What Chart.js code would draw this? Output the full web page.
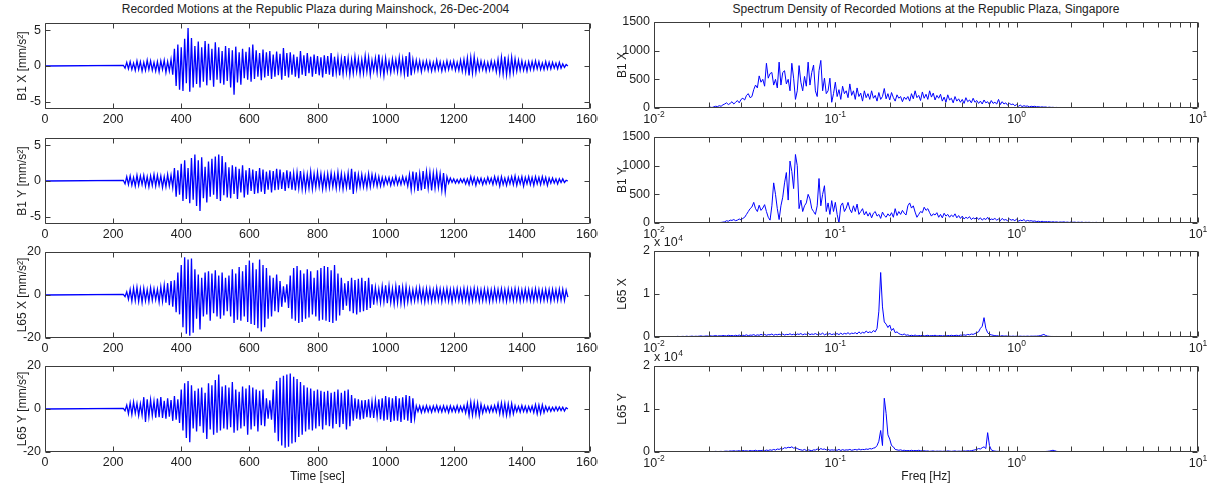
<!DOCTYPE html>
<html>
<head>
<meta charset="utf-8">
<script src="https://cdn.jsdelivr.net/npm/chart.js@4.4.1/dist/chart.umd.min.js"></script>
<style>
  html, body { margin: 0; padding: 0; background: #fff; }
  body { width: 1208px; height: 486px; position: relative; overflow: hidden; font-family: "Liberation Sans", Arial, sans-serif; }
  canvas { position: absolute; }
  .fig-title { position: absolute; top: 2px; font-size: 12px; line-height: 14px; color: #222; text-align: center; white-space: nowrap; }
</style>
</head>
<body>
<div class="fig-title" style="left:43px;width:545px">Recorded Motions at the Republic Plaza during Mainshock, 26-Dec-2004</div>
<div class="fig-title" style="left:654px;width:544px">Spectrum Density of Recorded Motions at the Republic Plaza, Singapore</div>

<canvas id="b1x-time"></canvas>
<canvas id="b1y-time"></canvas>
<canvas id="l65x-time"></canvas>
<canvas id="l65y-time"></canvas>
<canvas id="b1x-spec"></canvas>
<canvas id="b1y-spec"></canvas>
<canvas id="l65x-spec"></canvas>
<canvas id="l65y-spec"></canvas>

<script>
// time histories: one sample every DT seconds starting at T0 (record is quiet before T0)
const T0 = 230, DT = 5;
// spectra: samples on a log10 frequency grid starting at 10^LOGF0
const LOGF0 = -2, DLOGF = 0.01;

const timeTicks = [0, 200, 400, 600, 800, 1000, 1200, 1400, 1600];
const b1Ticks = [-5, 0, 5];
const l65Ticks = [-20, 0, 20];
const b1SpecTicks = [0, 500, 1000, 1500];
const l65SpecTicks = [0, 1, 2];
const freqDecades = [-2, -1, 0, 1];

// accelerations [mm/s^2], lines of 100 s
const b1x = [
  0.1,-0.3,0.5,-0.4,0.6,-0.5,0.4,-0.6,0.7,-0.5,0.6,-0.7,0.5,-0.6,0.8,-0.5,0.7,-0.6,0.5,-0.7,
  0.6,-0.8,0.7,-0.5,0.8,-0.9,0.6,-0.7,0.9,-1.2,2.4,-2.8,3.0,-3.3,2.6,-3.5,3.8,-2.4,5.3,-3.6,
  3.9,-3.0,2.8,-2.5,3.4,-3.0,2.6,-2.2,3.5,-2.7,3.1,-2.0,2.4,-2.9,3.3,-1.9,2.6,-2.4,2.1,-2.6,
  2.8,-2.1,2.5,-3.0,2.2,-4.0,2.7,-2.3,1.9,-2.6,2.4,-1.7,2.0,-1.9,2.6,-2.2,3.0,-1.8,2.2,-1.5,
  1.8,-2.0,2.3,-1.6,1.9,-1.4,2.1,-1.8,1.6,-1.5,2.0,-1.3,1.7,-1.9,2.5,-1.4,1.8,-1.6,1.9,-1.2,
  1.6,-1.5,1.3,-1.7,2.1,-1.2,1.5,-1.4,1.8,-1.0,1.3,-1.5,1.6,-1.1,1.4,-1.3,1.2,-1.6,1.5,-1.1,
  1.4,-1.2,1.8,-1.5,1.3,-1.0,1.2,-1.3,1.0,-1.1,1.4,-0.9,1.1,-1.2,0.9,-1.0,1.3,-0.8,1.0,-1.1,
  0.9,-1.0,1.4,-0.8,1.2,-1.2,0.8,-0.7,1.1,-0.9,1.6,-1.0,0.9,-1.3,1.1,-0.8,0.7,-0.9,1.0,-0.7,
  0.9,-0.8,1.2,-0.9,1.0,-1.1,1.4,-1.5,1.9,-1.3,0.9,-0.7,0.8,-0.6,0.7,-0.8,0.6,-0.5,0.7,-0.6,
  0.6,-0.7,0.5,-0.6,0.8,-0.5,0.6,-0.7,0.5,-0.6,0.7,-0.5,0.6,-0.4,0.7,-0.6,0.5,-0.6,0.8,-0.7,
  0.9,-0.8,1.1,-1.3,1.2,-1.0,1.3,-0.9,0.8,-0.6,0.7,-0.5,0.6,-0.7,0.5,-0.6,0.7,-0.5,0.6,-0.8,
  0.9,-1.0,1.2,-1.1,1.3,-1.2,1.0,-1.1,1.2,-0.9,1.0,-0.7,0.8,-0.6,0.7,-0.6,0.5,-0.7,0.6,-0.5,
  0.6,-0.5,0.7,-0.4,0.6,-0.5,0.4,-0.5,0.6,-0.4,0.5,-0.4,0.5,-0.3,0.4,-0.4,0.5,-0.3,0.3,-0.2,
  0.2,0.0
];
const b1y = [
  0.1,-0.4,0.6,-0.5,0.7,-0.6,0.5,-0.7,0.8,-0.6,0.7,-0.5,0.8,-0.7,0.6,-0.8,0.7,-0.6,0.9,-0.7,
  0.8,-0.6,0.7,-0.9,0.6,-0.8,0.9,-0.7,0.8,-0.9,1.8,-2.2,1.5,-1.9,2.4,-2.8,2.9,-2.5,1.8,-3.1,
  3.2,-2.6,3.7,-3.5,2.9,-4.2,3.3,-2.4,2.0,-3.0,2.7,-2.2,3.1,-1.9,3.4,-2.5,3.7,-2.8,3.5,-2.0,
  2.6,-2.3,1.9,-2.4,2.2,-1.8,2.0,-2.5,1.7,-1.6,2.2,-2.3,1.5,-1.9,1.8,-1.4,1.6,-1.8,1.4,-1.7,
  1.8,-1.5,1.6,-1.8,1.3,-1.2,1.5,-1.6,1.4,-1.3,1.7,-1.2,1.6,-1.1,1.2,-1.4,1.5,-1.0,1.3,-1.2,
  1.1,-1.3,1.2,-1.0,1.4,-1.1,1.0,-1.2,0.9,-1.0,1.3,-1.1,1.0,-0.9,1.2,-0.8,1.0,-1.1,0.9,-1.0,
  1.0,-0.9,1.1,-0.8,0.9,-1.0,1.2,-0.9,1.0,-1.1,0.8,-0.9,1.1,-1.2,1.7,-1.8,1.3,-1.0,0.9,-0.8,
  0.9,-0.8,0.7,-0.9,1.0,-0.8,0.9,-0.6,0.8,-0.7,0.6,-0.7,0.5,-0.6,0.5,-0.4,0.5,-0.6,0.4,-0.5,
  0.6,-0.5,0.4,-0.5,0.6,-0.4,0.5,-0.7,0.9,-1.2,1.3,-1.0,1.2,-1.4,1.0,-1.3,1.4,-1.1,1.3,-1.0,
  1.2,-1.3,1.1,-1.0,1.2,-0.9,1.0,-1.3,1.1,-1.5,0.6,-0.3,0.4,-0.2,0.3,-0.3,0.2,-0.3,0.3,-0.2,
  0.3,-0.4,0.3,-0.5,0.6,-0.4,0.5,-0.6,0.4,-0.3,0.4,-0.5,0.3,-0.4,0.5,-0.3,0.4,-0.5,0.6,-0.4,
  0.5,-0.7,0.6,-0.5,0.4,-0.6,0.5,-0.4,0.6,-0.5,0.7,-0.6,0.5,-0.4,0.6,-0.7,0.5,-0.4,0.6,-0.5,
  0.5,-0.6,0.6,-0.4,0.5,-0.5,0.6,-0.4,0.5,-0.6,0.4,-0.3,0.4,-0.3,0.3,-0.4,0.3,-0.2,0.3,-0.2,
  0.1,0.0
];
const l65x = [
  0.3,-0.8,1.5,-2.0,2.5,-2.8,3.2,-2.6,3.5,-3.0,2.8,-3.4,3.1,-2.7,2.5,-3.0,3.3,-2.4,2.9,-2.2,
  2.6,-3.2,3.8,-2.9,4.5,-3.6,5.5,-4.8,6.5,-5.5,6.8,-8.0,10.5,-9.0,14.0,-15.0,17.5,-18.0,16.5,-19.0,
  17.0,-17.5,12.0,-11.0,9.5,-16.0,8.0,-10.0,10.5,-9.0,11.0,-12.0,10.0,-8.5,11.5,-10.0,9.0,-11.0,10.5,-9.5,
  8.0,-7.5,9.0,-10.0,12.0,-13.0,10.0,-11.5,13.0,-12.0,11.0,-10.0,14.0,-12.5,16.0,-13.5,15.0,-14.0,12.0,-15.5,
  16.5,-17.0,14.0,-15.0,12.5,-11.0,9.0,-10.0,8.0,-7.5,9.5,-8.0,6.5,-5.5,4.0,-3.5,5.0,-6.0,9.0,-11.0,
  12.5,-12.0,13.5,-13.0,11.5,-12.5,10.0,-11.0,12.0,-10.5,11.0,-9.0,8.0,-10.0,11.5,-12.0,12.5,-11.5,13.5,-12.0,
  13.0,-12.5,11.5,-13.0,14.0,-12.0,10.0,-9.5,8.0,-7.0,5.5,-5.0,6.5,-7.5,8.0,-8.5,7.0,-9.0,7.5,-8.0,
  8.0,-7.5,6.5,-7.0,8.0,-6.0,5.0,-4.5,3.5,-3.0,2.8,-3.5,4.0,-3.2,4.5,-3.8,4.2,-3.5,3.0,-4.2,
  4.0,-3.5,4.5,-3.8,3.5,-4.0,3.8,-3.2,2.8,-3.0,2.5,-2.8,3.0,-2.5,3.4,-2.8,2.6,-3.2,3.0,-2.7,
  2.8,-3.0,2.4,-2.6,3.2,-2.5,2.8,-3.0,2.6,-2.4,3.0,-2.8,2.5,-3.1,2.7,-2.4,2.9,-2.6,2.4,-2.8,
  3.0,-2.6,2.8,-3.2,2.5,-2.7,3.1,-2.4,2.7,-2.9,2.4,-2.6,2.8,-2.5,2.6,-3.0,2.4,-2.7,2.9,-2.5,
  2.6,-2.4,2.8,-2.6,2.5,-2.9,2.7,-2.3,2.5,-2.6,2.9,-2.4,2.6,-2.8,2.4,-2.5,2.7,-2.3,2.5,-2.6,
  2.4,-2.6,2.8,-2.4,2.5,-2.7,2.3,-2.5,2.6,-2.4,2.5,-2.8,2.6,-2.3,2.4,-2.5,2.7,-2.4,2.6,-2.5,
  2.2,-1.0
];
const l65y = [
  0.3,-0.8,1.8,-2.2,2.8,-2.5,3.2,-2.0,2.6,-3.0,2.4,-2.8,5.5,-6.0,4.5,-3.5,4.2,-3.0,3.6,-4.0,
  4.8,-3.8,5.5,-4.2,3.8,-4.5,5.0,-3.6,4.2,-5.5,6.0,-5.0,4.5,-6.5,9.0,-10.0,12.0,-13.5,13.0,-15.5,
  11.0,-9.0,8.5,-10.5,9.5,-8.0,10.0,-11.0,7.5,-14.0,12.0,-9.5,11.0,-12.0,13.5,-11.0,16.0,-10.0,10.5,-9.0,
  11.0,-9.5,10.0,-8.5,12.5,-11.0,9.0,-10.0,8.0,-9.0,10.5,-8.0,9.5,-12.0,11.0,-9.5,10.0,-8.0,9.0,-10.5,
  8.5,-7.5,9.0,-8.0,5.0,-4.5,4.0,-5.0,9.0,-11.0,13.0,-15.0,14.5,-17.0,15.5,-18.0,16.0,-17.5,16.5,-16.0,
  15.0,-15.5,14.0,-13.0,12.5,-12.0,11.0,-10.5,10.0,-9.5,9.5,-10.0,8.5,-9.0,9.0,-8.0,8.5,-9.5,8.0,-7.5,
  8.5,-8.0,7.5,-9.0,8.0,-7.0,9.0,-8.5,7.5,-7.0,8.5,-9.5,9.0,-8.0,6.5,-5.5,5.0,-4.5,4.5,-5.0,
  4.0,-4.5,4.2,-3.8,4.5,-4.0,3.5,-4.2,4.0,-3.5,4.5,-4.8,5.0,-5.5,6.0,-5.0,5.5,-6.0,5.0,-5.5,
  6.0,-5.5,5.0,-6.0,5.5,-5.0,6.5,-5.5,6.0,-6.5,5.0,-4.5,1.5,-1.2,1.4,-1.6,1.2,-1.4,1.5,-1.3,
  1.2,-1.5,1.4,-1.1,1.6,-1.3,1.2,-1.4,1.5,-1.2,1.3,-1.6,1.4,-1.2,1.1,-1.3,1.5,-1.4,1.2,-1.1,
  1.5,-1.8,2.5,-3.0,3.2,-2.8,3.0,-2.6,2.8,-3.2,2.2,-1.8,1.5,-1.3,1.2,-1.5,1.4,-1.2,1.6,-1.4,
  2.5,-2.2,2.8,-2.5,2.6,-2.9,2.4,-2.7,2.5,-2.2,1.5,-1.3,1.2,-1.4,1.6,-1.2,1.3,-1.5,1.2,-1.1,
  1.4,-1.6,2.0,-2.2,1.8,-2.1,1.9,-1.7,1.2,-1.0,0.9,-1.1,0.8,-0.9,1.0,-0.8,0.9,-0.7,0.8,-0.9,
  0.6,0.0
];

// spectrum densities, lines of 0.1 decade from 10^-2 Hz
const b1xSpec = [
  0,0,0,0,0,0,0,0,0,0,
  0,0,0,0,0,0,0,0,0,0,
  0,0,0,0,0,0,0,0,2,5,
  10,15,8,20,30,25,40,30,55,70,
  90,60,80,110,70,100,130,90,150,170,
  140,220,250,180,200,320,400,350,560,450,
  500,380,780,520,600,620,400,500,350,800,
  400,620,650,420,500,300,780,520,150,300,
  740,450,300,550,380,800,400,620,750,300,
  200,650,830,300,520,250,300,520,100,250,
  450,200,320,150,380,250,300,180,420,220,
  300,150,350,200,260,120,300,180,250,150,
  300,170,220,120,270,150,200,340,160,250,
  140,270,180,120,230,170,200,110,190,150,
  200,120,250,160,300,180,220,130,280,170,
  240,150,300,190,260,140,220,170,240,120,
  190,100,230,140,170,90,200,120,160,100,
  150,80,180,110,140,90,170,100,130,80,
  120,70,140,90,110,60,130,80,100,70,
  150,60,110,70,90,50,80,60,70,40,
  60,30,50,25,40,30,35,20,30,25,
  30,20,25,15,20,15,18,10,15,10,
  12,8,10,6,9,5,8,6,7,5,
  6,4,5,3,5,4,6,3,4,3,
  4,3,5,2,4,3,3,2,4,2,
  3,2,3,2,3,2,2,1,2,1,
  1
];
const b1ySpec = [
  0,0,0,0,0,0,0,0,0,0,
  0,0,0,0,0,0,0,0,0,0,
  0,0,0,0,0,0,0,0,0,0,
  0,0,0,0,2,5,8,10,15,20,
  40,30,50,45,60,40,50,70,55,80,
  100,150,200,250,280,360,250,200,310,220,
  260,320,200,100,50,300,700,500,250,60,
  300,450,700,880,400,1080,900,600,1195,1000,
  250,400,200,300,350,500,420,250,200,150,
  300,776,300,500,650,200,350,150,390,200,
  360,150,0,300,350,200,260,360,240,180,
  300,200,330,150,200,250,140,200,120,180,
  90,170,200,120,150,80,190,130,100,160,
  120,180,100,250,130,200,150,220,170,140,
  300,350,260,300,190,100,150,200,180,275,
  220,250,180,120,160,140,180,100,150,90,
  170,120,150,100,140,110,160,90,130,80,
  120,70,100,80,110,60,90,70,100,60,
  90,50,80,60,100,50,70,60,80,50,
  70,40,80,50,60,40,70,50,60,40,
  70,30,50,40,60,30,45,35,40,30,
  35,25,30,20,30,20,25,20,25,15,
  22,15,20,12,18,14,20,12,16,10,
  18,12,15,10,14,10,15,8,12,10,
  12,8,10,8,11,7,10,8,9,6,
  8,6,7,5,6,4,6,4,5,3,
  2
];
// L65 spectra in units of 10^4
const l65xSpec = [
  0.01,0.005,0.01,0.008,0.01,0.006,0.01,0.008,0.012,0.01,
  0.01,0.012,0.008,0.015,0.01,0.012,0.015,0.01,0.018,0.012,
  0.015,0.02,0.012,0.018,0.015,0.02,0.025,0.015,0.02,0.025,
  0.02,0.03,0.02,0.025,0.035,0.02,0.03,0.025,0.035,0.03,
  0.025,0.04,0.03,0.035,0.025,0.04,0.03,0.045,0.03,0.04,
  0.035,0.05,0.03,0.045,0.04,0.055,0.035,0.05,0.04,0.06,
  0.045,0.06,0.04,0.055,0.05,0.07,0.04,0.06,0.05,0.065,
  0.05,0.07,0.045,0.06,0.055,0.075,0.05,0.065,0.045,0.07,
  0.06,0.08,0.05,0.07,0.06,0.085,0.055,0.07,0.06,0.08,
  0.055,0.075,0.06,0.09,0.05,0.07,0.065,0.08,0.055,0.07,
  0.06,0.08,0.055,0.09,0.06,0.085,0.07,0.1,0.065,0.09,
  0.08,0.1,0.07,0.12,0.08,0.11,0.09,0.14,0.1,0.12,
  0.1,0.15,0.12,0.2,0.6,1.5,0.7,0.35,0.3,0.22,
  0.28,0.15,0.2,0.1,0.12,0.08,0.06,0.05,0.07,0.04,
  0.05,0.03,0.04,0.03,0.045,0.025,0.035,0.03,0.04,0.025,
  0.03,0.04,0.025,0.035,0.03,0.04,0.025,0.03,0.035,0.025,
  0.03,0.025,0.035,0.03,0.04,0.03,0.035,0.04,0.03,0.045,
  0.04,0.05,0.04,0.06,0.05,0.07,0.06,0.08,0.1,0.12,
  0.2,0.25,0.45,0.2,0.1,0.06,0.05,0.04,0.03,0.03,
  0.025,0.02,0.03,0.02,0.025,0.02,0.02,0.015,0.02,0.015,
  0.02,0.015,0.02,0.015,0.018,0.015,0.02,0.015,0.02,0.018,
  0.02,0.02,0.025,0.03,0.045,0.06,0.035,0.02,0.015,0.012,
  0.012,0.01,0.012,0.01,0.011,0.01,0.01,0.009,0.01,0.009,
  0.01,0.008,0.009,0.008,0.009,0.008,0.008,0.007,0.008,0.007,
  0.008,0.007,0.007,0.006,0.007,0.006,0.006,0.006,0.006,0.005,
  0.006,0.005,0.005,0.005,0.005,0.004,0.005,0.004,0.004,0.004,
  0.004
];
const l65ySpec = [
  0.005,0.004,0.006,0.005,0.004,0.006,0.005,0.004,0.005,0.006,
  0.005,0.006,0.004,0.007,0.005,0.006,0.005,0.007,0.006,0.005,
  0.006,0.008,0.005,0.007,0.009,0.006,0.008,0.01,0.007,0.009,
  0.01,0.008,0.012,0.01,0.015,0.01,0.012,0.015,0.01,0.018,
  0.02,0.015,0.025,0.02,0.03,0.02,0.025,0.03,0.02,0.035,
  0.025,0.03,0.02,0.035,0.025,0.03,0.04,0.025,0.035,0.03,
  0.04,0.03,0.045,0.035,0.05,0.04,0.06,0.045,0.07,0.06,
  0.08,0.07,0.1,0.09,0.11,0.1,0.12,0.09,0.1,0.08,
  0.06,0.05,0.04,0.06,0.035,0.05,0.04,0.03,0.05,0.045,
  0.07,0.05,0.08,0.06,0.07,0.05,0.06,0.04,0.05,0.045,
  0.05,0.04,0.06,0.035,0.055,0.04,0.05,0.045,0.06,0.04,
  0.05,0.06,0.045,0.07,0.05,0.06,0.055,0.07,0.06,0.08,
  0.07,0.09,0.1,0.15,0.25,0.5,0.15,1.25,0.9,0.4,
  0.3,0.15,0.12,0.06,0.05,0.04,0.05,0.035,0.04,0.03,
  0.035,0.03,0.04,0.03,0.035,0.03,0.04,0.03,0.025,0.03,
  0.02,0.025,0.015,0.02,0.025,0.015,0.02,0.018,0.02,0.015,
  0.02,0.015,0.025,0.02,0.015,0.02,0.025,0.015,0.02,0.018,
  0.02,0.025,0.02,0.03,0.025,0.03,0.04,0.05,0.06,0.08,
  0.07,0.1,0.12,0.08,0.45,0.15,0.05,0.03,0.02,0.015,
  0.015,0.012,0.015,0.01,0.012,0.01,0.012,0.01,0.011,0.01,
  0.01,0.009,0.01,0.008,0.01,0.008,0.009,0.008,0.009,0.008,
  0.008,0.009,0.008,0.01,0.009,0.01,0.012,0.015,0.02,0.03,
  0.04,0.03,0.015,0.01,0.008,0.007,0.007,0.006,0.006,0.005,
  0.005,0.005,0.005,0.004,0.005,0.004,0.004,0.004,0.004,0.003,
  0.004,0.003,0.004,0.003,0.003,0.003,0.003,0.003,0.003,0.003,
  0.003,0.003,0.002,0.003,0.002,0.002,0.002,0.002,0.002,0.002,
  0.002
];

const LINE_COLOR = '#0000ff';
const AXIS_COLOR = '#3c3c3c';
const TEXT_COLOR = '#1e1e1e';
const FONT_FAMILY = '"Liberation Sans", Arial, sans-serif';
const TICK_LEN = 5;
const PAD_TOP = 16;
const PLOT_H = 86;

// time history points (quiet record before T0)
function timeSeries(values) {
    return [{ x: 0, y: 0 }].concat(values.map((v, i) => ({ x: T0 + i * DT, y: v })));
}

// spectrum points on the log frequency grid
function specSeries(values) {
    return values.map((v, i) => ({ x: Math.pow(10, (LOGF0 * 100 + i * DLOGF * 100) / 100), y: v }));
}

// log minor tick positions (2..9 x each decade)
const freqMinor = [];
[-2, -1, 0].forEach(d => { for (let m = 2; m <= 9; m++) freqMinor.push(m * Math.pow(10, d)); });

/**
 * Box with inward ticks on all four sides, plus log tick labels and the
 * "x 10^4" multiplier, drawn the way the original figure shows them.
 */
const matlabAxes = {
    id: 'matlabAxes',
    afterDraw(chart, args, o) {
        const { ctx, chartArea: a } = chart;
        const x = chart.scales.x, y = chart.scales.y;
        const L = Math.round(a.left) + 0.5, R = Math.round(a.right) - 0.5;
        const T = Math.round(a.top) + 0.5, B = Math.round(a.bottom) - 0.5;
        ctx.save();
        ctx.strokeStyle = AXIS_COLOR;
        ctx.lineWidth = 1;
        ctx.beginPath();
        ctx.rect(L, T, R - L, B - T);
        o.xMarks.forEach(v => {
            const p = Math.round(x.getPixelForValue(v)) + 0.5;
            ctx.moveTo(p, B); ctx.lineTo(p, B - TICK_LEN);
            ctx.moveTo(p, T); ctx.lineTo(p, T + TICK_LEN);
        });
        o.yMarks.forEach(v => {
            const p = Math.round(y.getPixelForValue(v)) + 0.5;
            ctx.moveTo(L, p); ctx.lineTo(L + TICK_LEN, p);
            ctx.moveTo(R, p); ctx.lineTo(R - TICK_LEN, p);
        });
        ctx.stroke();

        ctx.fillStyle = TEXT_COLOR;
        ctx.textBaseline = 'alphabetic';
        ctx.textAlign = 'left';
        const big = '12.5px ' + FONT_FAMILY, small = '8.5px ' + FONT_FAMILY;
        if (o.logLabels) {
            freqDecades.forEach(d => {
                const p = x.getPixelForValue(Math.pow(10, d));
                const exp = d < 0 ? '-' + Math.abs(d) : String(d);
                ctx.font = big; const w1 = ctx.measureText('10').width;
                ctx.font = small; const w2 = ctx.measureText(exp).width;
                const x0 = p - (w1 + w2) / 2;
                ctx.font = big; ctx.fillText('10', x0, a.bottom + 15);
                ctx.font = small; ctx.fillText(exp, x0 + w1, a.bottom + 9);
            });
        }
        if (o.multiplier) {
            ctx.font = big;
            const t = 'x 10';
            ctx.fillText(t, a.left, a.top - 5);
            const w = ctx.measureText(t).width;
            ctx.font = small;
            ctx.fillText(o.multiplier, a.left + w + 0.5, a.top - 10);
        }
        ctx.restore();
    }
};

function drawPanel(canvasId, cfg) {
    const canvas = document.getElementById(canvasId);
    const xAxisH = cfg.xTitle ? 32 : 22;
    canvas.width = cfg.width;
    canvas.height = PAD_TOP + PLOT_H + xAxisH;
    canvas.style.left = cfg.left + 'px';
    canvas.style.top = (cfg.top - PAD_TOP) + 'px';

    const tickFont = { family: FONT_FAMILY, size: 12.5 };
    const titleFont = { family: FONT_FAMILY, size: 12 };

    return new Chart(canvas.getContext('2d'), {
        type: 'line',
        data: {
            datasets: [{
                data: cfg.data,
                borderColor: LINE_COLOR,
                borderWidth: cfg.lineWidth,
                pointRadius: 0,
                tension: 0,
                fill: false,
            }]
        },
        options: {
            responsive: false,
            animation: false,
            events: [],
            layout: { padding: { top: PAD_TOP, right: cfg.padRight, left: 0, bottom: 0 } },
            scales: {
                x: {
                    type: cfg.log ? 'logarithmic' : 'linear',
                    min: cfg.xMin,
                    max: cfg.xMax,
                    afterBuildTicks: s => { s.ticks = cfg.xTicks.map(v => ({ value: v })); },
                    afterFit: s => { s.height = xAxisH; s.paddingLeft = 0; s.paddingRight = 0; },
                    grid: { display: false, drawTicks: false },
                    border: { display: false },
                    ticks: {
                        display: !cfg.log,
                        font: tickFont, color: TEXT_COLOR, padding: 3,
                        maxRotation: 0, autoSkip: false,
                        callback: v => String(v),
                    },
                    title: { display: !!cfg.xTitle, text: cfg.xTitle, font: titleFont, color: TEXT_COLOR, padding: 0 },
                },
                y: {
                    min: cfg.yMin,
                    max: cfg.yMax,
                    afterBuildTicks: s => { s.ticks = cfg.yTicks.map(v => ({ value: v })); },
                    afterFit: s => { s.width = cfg.yAxisW; s.paddingTop = 0; s.paddingBottom = 0; },
                    grid: { display: false, drawTicks: false },
                    border: { display: false },
                    ticks: { font: tickFont, color: TEXT_COLOR, padding: 4, callback: v => String(v) },
                    title: { display: true, text: cfg.yTitle, font: titleFont, color: TEXT_COLOR, padding: { top: 15, bottom: 0 } },
                },
            },
            plugins: {
                legend: { display: false },
                tooltip: { enabled: false },
                matlabAxes: {
                    xMarks: cfg.log ? cfg.xTicks.concat(freqMinor) : cfg.xTicks,
                    yMarks: cfg.yTicks,
                    logLabels: !!cfg.log,
                    multiplier: cfg.multiplier || null,
                },
            },
        },
        plugins: [matlabAxes],
    });
}

const leftCol = { left: 0, width: 598, padRight: 8, yAxisW: 45, xMin: 0, xMax: 1600, xTicks: timeTicks, lineWidth: 1.3 };
const rightCol = { left: 600, width: 608, padRight: 10, yAxisW: 54, xMin: 0.01, xMax: 10, log: true,
                   xTicks: freqDecades.map(d => Math.pow(10, d)), lineWidth: 1 };

drawPanel('b1x-time', { ...leftCol, top: 23, data: timeSeries(b1x), yMin: -6, yMax: 6, yTicks: b1Ticks, yTitle: 'B1 X [mm/s²]' });
drawPanel('b1y-time', { ...leftCol, top: 138, data: timeSeries(b1y), yMin: -6, yMax: 6, yTicks: b1Ticks, yTitle: 'B1 Y [mm/s²]' });
drawPanel('l65x-time', { ...leftCol, top: 252, data: timeSeries(l65x), yMin: -20, yMax: 20, yTicks: l65Ticks, yTitle: 'L65 X [mm/s²]' });
drawPanel('l65y-time', { ...leftCol, top: 366, data: timeSeries(l65y), yMin: -20, yMax: 20, yTicks: l65Ticks, yTitle: 'L65 Y [mm/s²]', xTitle: 'Time [sec]' });

drawPanel('b1x-spec', { ...rightCol, top: 22, data: specSeries(b1xSpec), yMin: 0, yMax: 1500, yTicks: b1SpecTicks, yTitle: 'B1 X' });
drawPanel('b1y-spec', { ...rightCol, top: 137, data: specSeries(b1ySpec), yMin: 0, yMax: 1500, yTicks: b1SpecTicks, yTitle: 'B1 Y' });
drawPanel('l65x-spec', { ...rightCol, top: 251, data: specSeries(l65xSpec), yMin: 0, yMax: 2, yTicks: l65SpecTicks, yTitle: 'L65 X', multiplier: '4' });
drawPanel('l65y-spec', { ...rightCol, top: 366, data: specSeries(l65ySpec), yMin: 0, yMax: 2, yTicks: l65SpecTicks, yTitle: 'L65 Y', multiplier: '4', xTitle: 'Freq [Hz]' });
</script>
</body>
</html>
